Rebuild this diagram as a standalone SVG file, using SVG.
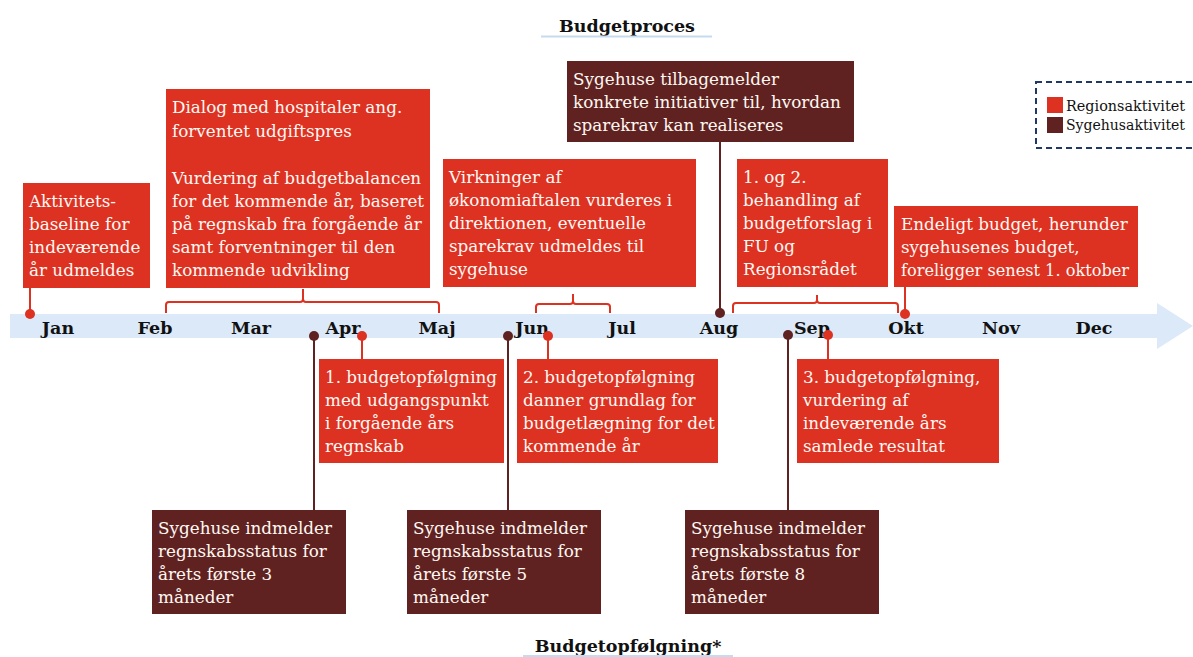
<svg xmlns="http://www.w3.org/2000/svg" width="1193" height="657" viewBox="0 0 1193 657">
<style>
.r{fill:#dd3122}
.d{fill:#602221}
.t{font-family:"DejaVu Serif","Liberation Serif",serif;font-size:16.8px;fill:#fff8f2}
.m{font-family:"DejaVu Serif","Liberation Serif",serif;font-size:17.5px;font-weight:bold;fill:#111;text-anchor:middle}
.h{font-family:"DejaVu Serif","Liberation Serif",serif;font-size:17.5px;font-weight:bold;fill:#111;text-anchor:middle}
.lg{font-family:"DejaVu Serif","Liberation Serif",serif;font-size:15px;fill:#111}
.cr{stroke:#dd3122;stroke-width:2;fill:none}
.cd{stroke:#602221;stroke-width:2;fill:none}
</style>
<rect width="1193" height="657" fill="#fff"/>
<g id="titles">
<text class="h" x="627" y="32">Budgetproces</text>
<line x1="541" y1="36.5" x2="712" y2="36.5" stroke="#c5dbf2" stroke-width="2"/>
<text class="h" x="628" y="652">Budgetopfølgning*</text>
<line x1="523" y1="656" x2="733" y2="656" stroke="#c5dbf2" stroke-width="2"/>
</g>
<g id="timeline">
<polygon points="10,314 1157,314 1157,303 1193,326 1157,349 1157,338 10,338" fill="#dbe9f8"/>
<text class="m" x="58" y="334">Jan</text>
<text class="m" x="155" y="334">Feb</text>
<text class="m" x="251" y="334">Mar</text>
<text class="m" x="343" y="334">Apr</text>
<text class="m" x="437" y="334">Maj</text>
<text class="m" x="532" y="334">Jun</text>
<text class="m" x="622" y="334">Jul</text>
<text class="m" x="719" y="334">Aug</text>
<text class="m" x="812" y="334">Sep</text>
<text class="m" x="906" y="334">Okt</text>
<text class="m" x="1001" y="334">Nov</text>
<text class="m" x="1094" y="334">Dec</text>
</g>
<g id="connectors">
<line class="cr" x1="30" y1="288" x2="30" y2="314"/>
<path class="cr" d="M166,313 V305 Q166,302 169,302 H300 Q303,302 303,299 V289 M303,299 Q303,302 306,302 H436 Q439,302 439,305 V313"/>
<path class="cr" d="M536,313 V307 Q536,304 539,304 H570 Q573,304 573,301 V294 M573,301 Q573,304 576,304 H607 Q610,304 610,307 V313"/>
<path class="cr" d="M733,313 V306 Q733,303 736,303 H814 Q817,303 817,300 V295 M817,300 Q817,303 820,303 H895 Q898,303 898,306 V313"/>
<line class="cd" x1="720" y1="142" x2="720" y2="313"/>
<line class="cr" x1="905" y1="287" x2="905" y2="314"/>
<line class="cd" x1="314" y1="336" x2="314" y2="510"/>
<line class="cr" x1="362" y1="336" x2="362" y2="359"/>
<line class="cd" x1="508" y1="336" x2="508" y2="510"/>
<line class="cr" x1="548" y1="336" x2="548" y2="359"/>
<line class="cd" x1="788" y1="335" x2="788" y2="510"/>
<line class="cr" x1="828" y1="335" x2="828" y2="359"/>
<circle class="r" cx="30" cy="314" r="5"/>
<circle class="d" cx="720" cy="313" r="5"/>
<circle class="r" cx="905" cy="314" r="5"/>
<circle class="d" cx="314" cy="336" r="5"/>
<circle class="r" cx="362" cy="336" r="5"/>
<circle class="d" cx="508" cy="336" r="5"/>
<circle class="r" cx="548" cy="336" r="5"/>
<circle class="d" cx="788" cy="335" r="5"/>
<circle class="r" cx="828" cy="335" r="5"/>
</g>
<g id="n-aktivitet">
<rect class="r" x="23" y="183" width="127" height="105"/>
<text class="t"><tspan x="29" y="207">Aktivitets-</tspan><tspan x="29" y="230">baseline for</tspan><tspan x="29" y="253">indeværende</tspan><tspan x="29" y="276">år udmeldes</tspan></text>
</g>
<g id="n-dialog">
<rect class="r" x="166" y="89" width="264" height="199"/>
<text class="t"><tspan x="172" y="113">Dialog med hospitaler ang.</tspan><tspan x="172" y="137">forventet udgiftspres</tspan><tspan x="172" y="184">Vurdering af budgetbalancen</tspan><tspan x="172" y="207">for det kommende år, baseret</tspan><tspan x="172" y="230">på regnskab fra forgående år</tspan><tspan x="172" y="253">samt forventninger til den</tspan><tspan x="172" y="276">kommende udvikling</tspan></text>
</g>
<g id="n-virkninger">
<rect class="r" x="443" y="159" width="253" height="128"/>
<text class="t"><tspan x="449" y="183">Virkninger af</tspan><tspan x="449" y="206">økonomiaftalen vurderes i</tspan><tspan x="449" y="229">direktionen, eventuelle</tspan><tspan x="449" y="252">sparekrav udmeldes til</tspan><tspan x="449" y="275">sygehuse</tspan></text>
</g>
<g id="n-tilbagemelder">
<rect class="d" x="567" y="61" width="287" height="81"/>
<text class="t"><tspan x="573" y="85">Sygehuse tilbagemelder</tspan><tspan x="573" y="108">konkrete initiativer til, hvordan</tspan><tspan x="573" y="131">sparekrav kan realiseres</tspan></text>
</g>
<g id="n-behandling">
<rect class="r" x="737" y="159" width="151" height="128"/>
<text class="t"><tspan x="743" y="183">1. og 2.</tspan><tspan x="743" y="206">behandling af</tspan><tspan x="743" y="229">budgetforslag i</tspan><tspan x="743" y="252">FU og</tspan><tspan x="743" y="275">Regionsrådet</tspan></text>
</g>
<g id="n-endeligt">
<rect class="r" x="894" y="206" width="244" height="81"/>
<text class="t"><tspan x="901" y="230">Endeligt budget, herunder</tspan><tspan x="901" y="253">sygehusenes budget,</tspan><tspan x="901" y="276" textLength="228" lengthAdjust="spacingAndGlyphs">foreligger senest 1. oktober</tspan></text>
</g>
<g id="n-opf1">
<rect class="r" x="319" y="359" width="185" height="104"/>
<text class="t"><tspan x="325" y="383">1. budgetopfølgning</tspan><tspan x="325" y="406">med udgangspunkt</tspan><tspan x="325" y="429">i forgående års</tspan><tspan x="325" y="452">regnskab</tspan></text>
</g>
<g id="n-opf2">
<rect class="r" x="517" y="359" width="201" height="104"/>
<text class="t"><tspan x="523" y="383">2. budgetopfølgning</tspan><tspan x="523" y="406">danner grundlag for</tspan><tspan x="523" y="429">budgetlægning for det</tspan><tspan x="523" y="452">kommende år</tspan></text>
</g>
<g id="n-opf3">
<rect class="r" x="797" y="359" width="202" height="104"/>
<text class="t"><tspan x="803" y="383">3. budgetopfølgning,</tspan><tspan x="803" y="406">vurdering af</tspan><tspan x="803" y="429">indeværende års</tspan><tspan x="803" y="452">samlede resultat</tspan></text>
</g>
<g id="n-status3">
<rect class="d" x="152" y="510" width="194" height="104"/>
<text class="t"><tspan x="158" y="534">Sygehuse indmelder</tspan><tspan x="158" y="557">regnskabsstatus for</tspan><tspan x="158" y="580">årets første 3</tspan><tspan x="158" y="603">måneder</tspan></text>
</g>
<g id="n-status5">
<rect class="d" x="407" y="510" width="194" height="104"/>
<text class="t"><tspan x="413" y="534">Sygehuse indmelder</tspan><tspan x="413" y="557">regnskabsstatus for</tspan><tspan x="413" y="580">årets første 5</tspan><tspan x="413" y="603">måneder</tspan></text>
</g>
<g id="n-status8">
<rect class="d" x="685" y="510" width="194" height="104"/>
<text class="t"><tspan x="691" y="534">Sygehuse indmelder</tspan><tspan x="691" y="557">regnskabsstatus for</tspan><tspan x="691" y="580">årets første 8</tspan><tspan x="691" y="603">måneder</tspan></text>
</g>
<g id="legend">
<rect x="1036" y="82" width="170" height="66" fill="none" stroke="#1f3864" stroke-width="2" stroke-dasharray="6,4"/>
<rect class="r" x="1047" y="97" width="16" height="16"/>
<rect class="d" x="1047" y="117" width="16" height="16"/>
<text class="lg" x="1066" y="111" textLength="119" lengthAdjust="spacingAndGlyphs">Regionsaktivitet</text>
<text class="lg" x="1066" y="130" textLength="119" lengthAdjust="spacingAndGlyphs">Sygehusaktivitet</text>
</g>
</svg>
